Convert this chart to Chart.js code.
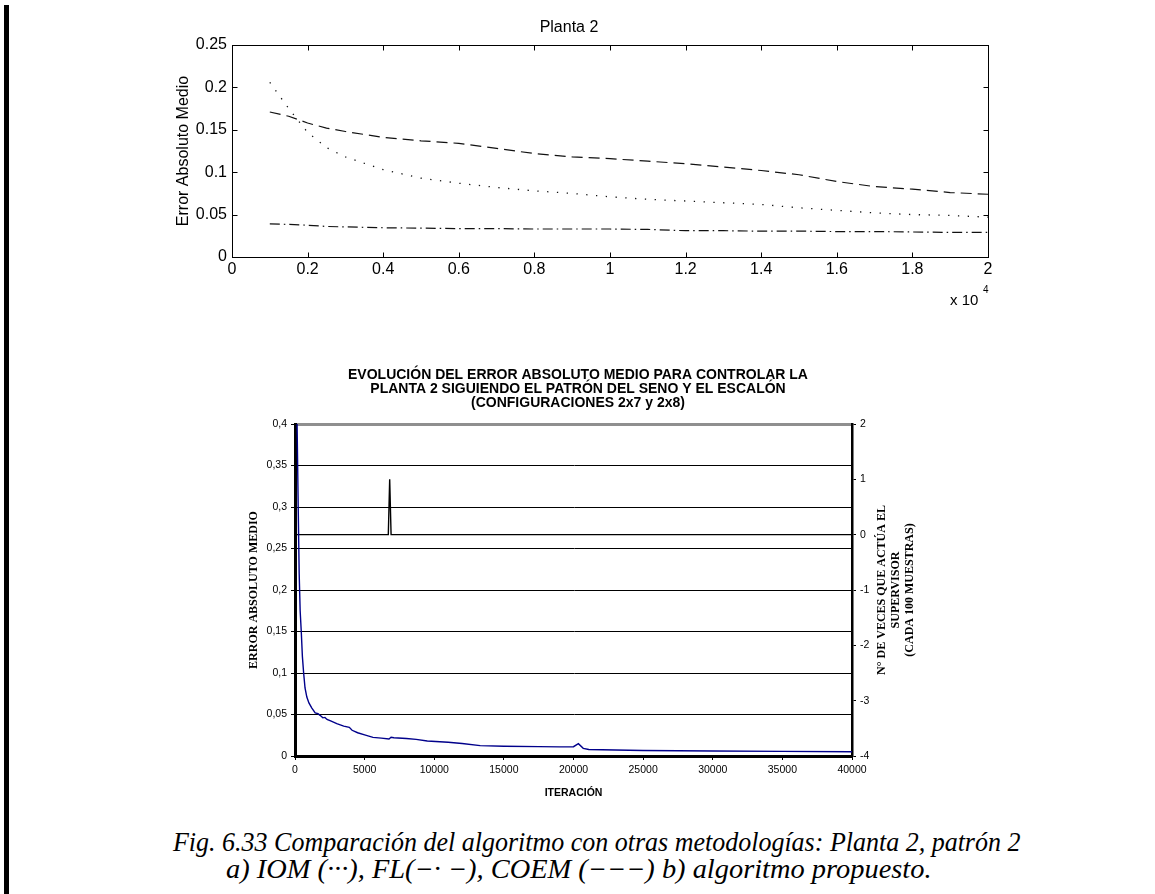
<!DOCTYPE html>
<html>
<head>
<meta charset="utf-8">
<script src="https://cdn.jsdelivr.net/npm/chart.js@4.4.1/dist/chart.umd.min.js"></script>
<style>
  html, body { margin: 0; padding: 0; background: #fff; }
  body { width: 1155px; height: 894px; position: relative; overflow: hidden; }
  #bar { position: absolute; left: 4px; top: 5px; width: 5px; height: 889px; background: #000; }
  #c1 { position: absolute; left: 150px; top: 0; }
  #c2 { position: absolute; left: 198px; top: 360px; }
  .cap { position: absolute; font-family: 'Liberation Serif', 'Times New Roman', serif; font-style: italic;
         font-size: 27px; line-height: 1; white-space: nowrap; color: #000; transform-origin: 0 50%; }
</style>
</head>
<body>
<div id="bar"></div>
<canvas id="c1" width="920" height="320"></canvas>
<canvas id="c2" width="760" height="440"></canvas>
<div class="cap" data-w="847" style="left:173px; top:829px;">Fig. 6.33 Comparación del algoritmo con otras metodologías: Planta 2, patrón 2</div>
<div class="cap" data-w="706" style="left:226px; top:856px;">a) IOM (···), FL(−· −), COEM (−−−) b) algoritmo propuesto.</div>

<script>
// ---- Planta 2: mean absolute error of three methods (iterations in units of 10^4) ----
const plantIter = [0.1, 0.15, 0.2, 0.25, 0.3, 0.4, 0.5, 0.6, 0.7, 0.8, 0.9, 1.0, 1.1, 1.2, 1.3, 1.4, 1.5, 1.6, 1.7, 1.8, 1.9, 2.0];
const iomErr  = [0.206, 0.175, 0.147, 0.129, 0.118, 0.103, 0.093, 0.087, 0.082, 0.078, 0.075, 0.071, 0.068, 0.066, 0.064, 0.062, 0.058, 0.055, 0.052, 0.050, 0.049, 0.047];
const flErr   = [0.039, 0.0385, 0.0375, 0.036, 0.0355, 0.0345, 0.034, 0.0335, 0.0335, 0.033, 0.033, 0.033, 0.0325, 0.031, 0.031, 0.0305, 0.0305, 0.030, 0.030, 0.0295, 0.029, 0.029];
const coemErr = [0.171, 0.166, 0.158, 0.152, 0.148, 0.141, 0.137, 0.134, 0.128, 0.122, 0.118, 0.116, 0.113, 0.110, 0.106, 0.102, 0.097, 0.089, 0.083, 0.080, 0.076, 0.074];

// ---- Proposed algorithm: error evolution and supervisor activity ----
const iterations = [150, 230, 300, 370, 450, 530, 620, 720, 850, 1000, 1200, 1450, 1650, 1800, 2000, 2150, 2300, 2600, 3000, 3500, 3900, 4100, 4500, 5000, 5600, 6200, 6750, 6900, 7100, 8000, 8700, 9500, 11000, 12000, 13300, 15000, 17500, 19000, 20000, 20350, 20700, 21100, 23000, 25000, 30000, 35000, 40000];
const meanAbsError = [0.40, 0.30, 0.22, 0.175, 0.15, 0.12, 0.10, 0.082, 0.071, 0.064, 0.058, 0.052, 0.051, 0.049, 0.046, 0.0465, 0.044, 0.042, 0.039, 0.036, 0.0345, 0.031, 0.028, 0.0255, 0.0225, 0.0215, 0.0205, 0.0225, 0.022, 0.021, 0.020, 0.018, 0.0165, 0.015, 0.0125, 0.0118, 0.0113, 0.011, 0.0112, 0.0148, 0.0092, 0.0078, 0.0072, 0.0066, 0.006, 0.0056, 0.0052];
const supervisorIter  = [0, 6700, 6800, 6900, 40000];
const supervisorCount = [0, 0, 1, 0, 0];

const topTitle = 'Planta 2';
const topYTitle = 'Error Absoluto Medio';
const bottomTitle = [
  'EVOLUCIÓN DEL ERROR ABSOLUTO MEDIO PARA CONTROLAR LA',
  'PLANTA 2 SIGUIENDO EL PATRÓN DEL SENO Y EL ESCALÓN',
  '(CONFIGURACIONES 2x7 y 2x8)'
];
const leftTitle = 'ERROR ABSOLUTO MEDIO';
const rightTitleLines = ['N° DE VECES QUE ACTÚA EL', 'SUPERVISOR', '(CADA 100 MUESTRAS)'];
const xTitle = 'ITERACIÓN';

const sans = "'Liberation Sans', Arial, sans-serif";
const serif = "'Liberation Serif', 'Times New Roman', serif";
Chart.defaults.font.family = sans;
Chart.defaults.color = '#000';
Chart.defaults.animation = false;

const pts = (xs, ys) => xs.map((x, i) => ({ x, y: ys[i] }));

// Box frame with inward tick marks on all four sides, plus the x 10^4 multiplier
const boxTicks = {
  id: 'boxTicks',
  afterDatasetsDraw(chart) {
    const { ctx, chartArea: a, scales: { x, y } } = chart;
    ctx.save();
    ctx.strokeStyle = '#000';
    ctx.lineWidth = 1;
    const L = Math.round(a.left) + 0.5, R = Math.round(a.right) + 0.5;
    const T = Math.round(a.top) + 0.5, B = Math.round(a.bottom) + 0.5;
    ctx.strokeRect(L, T, R - L, B - T);
    ctx.beginPath();
    x.ticks.forEach(t => {
      const px = Math.round(x.getPixelForValue(t.value)) + 0.5;
      ctx.moveTo(px, B); ctx.lineTo(px, B - 5);
      ctx.moveTo(px, T); ctx.lineTo(px, T + 5);
    });
    y.ticks.forEach(t => {
      const py = Math.round(y.getPixelForValue(t.value)) + 0.5;
      ctx.moveTo(L, py); ctx.lineTo(L + 5, py);
      ctx.moveTo(R, py); ctx.lineTo(R - 5, py);
    });
    ctx.stroke();
    ctx.fillStyle = '#000';
    ctx.textAlign = 'left';
    ctx.textBaseline = 'alphabetic';
    ctx.font = `15px ${sans}`;
    ctx.fillText('x 10', a.right - 38, a.bottom + 48);
    ctx.font = `10px ${sans}`;
    ctx.fillText('4', a.right - 5, a.bottom + 36);
    ctx.restore();
  }
};

new Chart(document.getElementById('c1'), {
  type: 'line',
  data: {
    datasets: [
      { label: 'IOM', data: pts(plantIter, iomErr), borderColor: '#111', borderWidth: 1.3,
        borderDash: [1.3, 8.5], pointRadius: 0, fill: false },
      { label: 'FL', data: pts(plantIter, flErr), borderColor: '#111', borderWidth: 1.2,
        borderDash: [10, 4, 1.5, 4], pointRadius: 0, fill: false },
      { label: 'COEM', data: pts(plantIter, coemErr), borderColor: '#111', borderWidth: 1.2,
        borderDash: [11, 6], pointRadius: 0, fill: false }
    ]
  },
  options: {
    responsive: false,
    devicePixelRatio: 1,
    layout: { padding: { left: 0, right: 82, top: 0, bottom: 0 } },
    plugins: {
      legend: { display: false },
      tooltip: { enabled: false },
      title: { display: true, text: topTitle, font: { size: 16, weight: 'normal' },
               padding: { top: 18.4, bottom: 7.4 }, color: '#000' }
    },
    scales: {
      x: {
        type: 'linear', min: 0, max: 2,
        ticks: { stepSize: 0.2, font: { size: 16 }, padding: 3, maxRotation: 0,
                 callback: v => String(Math.round(v * 10) / 10) },
        grid: { display: false, drawTicks: false },
        border: { display: false },
        afterFit(s) { s.height = 63; }
      },
      y: {
        min: 0, max: 0.25,
        ticks: { stepSize: 0.05, font: { size: 16 }, padding: 5,
                 callback: v => String(Math.round(v * 100) / 100) },
        grid: { display: false, drawTicks: false },
        border: { display: false },
        title: { display: true, text: topYTitle, font: { size: 16 }, padding: { top: 24, bottom: 0 } },
        afterFit(s) { s.width = 82; }
      }
    }
  },
  plugins: [boxTicks]
});

// Rotated multi-line title for the right-hand axis, read bottom to top
const rightTitle = {
  id: 'rightTitle',
  afterDraw(chart) {
    const { ctx, chartArea: a } = chart;
    const r = chart.scales.y1;
    ctx.save();
    ctx.font = `bold 12px ${serif}`;
    ctx.fillStyle = '#000';
    ctx.textAlign = 'center';
    ctx.textBaseline = 'middle';
    const cy = (a.top + a.bottom) / 2;
    rightTitleLines.forEach((t, i) => {
      ctx.save();
      ctx.translate(r.left + 30 + i * 14, cy);
      ctx.rotate(-Math.PI / 2);
      ctx.fillText(t, 0, 0);
      ctx.restore();
    });
    ctx.restore();
  }
};

const comma = v => String(Math.round(v * 100) / 100).replace('.', ',');

new Chart(document.getElementById('c2'), {
  type: 'line',
  data: {
    datasets: [
      { label: 'Error', data: pts(iterations, meanAbsError), yAxisID: 'y', borderColor: '#00008b',
        borderWidth: 1.4, pointRadius: 0, fill: false, tension: 0 },
      { label: 'Supervisor', data: pts(supervisorIter, supervisorCount), yAxisID: 'y1', borderColor: '#000',
        borderWidth: 1.4, pointRadius: 0, fill: false, tension: 0 }
    ]
  },
  options: {
    responsive: false,
    devicePixelRatio: 1,
    layout: { padding: 0 },
    plugins: {
      legend: { display: false },
      tooltip: { enabled: false },
      title: { display: true, text: bottomTitle, color: '#000',
               font: { size: 14, weight: 'bold', lineHeight: 1 },
               padding: { top: 8, bottom: 14 } }
    },
    scales: {
      x: {
        type: 'linear', min: 0, max: 40000,
        ticks: { stepSize: 5000, font: { size: 10.5 }, padding: 4, maxRotation: 0,
                 callback: v => String(v) },
        grid: { drawOnChartArea: false, drawTicks: true, tickLength: 4, tickColor: '#000', tickWidth: 1 },
        border: { color: '#000', width: 3 },
        title: { display: true, text: xTitle, font: { size: 10.5, weight: 'bold' }, padding: { top: 0, bottom: 1 } },
        afterFit(s) { s.height = 44; }
      },
      y: {
        position: 'left', min: 0, max: 0.4,
        ticks: { stepSize: 0.05, font: { size: 10.5 }, padding: 4, callback: comma },
        grid: {
          color: c => (c.tick && c.tick.value > 0.399) ? '#8f8f8f' : '#000',
          lineWidth: c => (c.tick && c.tick.value > 0.399) ? 3 : 1,
          drawTicks: true, tickLength: 4, tickColor: '#000', tickWidth: 1
        },
        border: { color: '#000', width: 3 },
        title: { display: true, text: leftTitle, font: { family: serif, size: 12, weight: 'bold' },
                 padding: { top: 49, bottom: 0 } },
        afterFit(s) { s.width = 97; }
      },
      y1: {
        position: 'right', min: -4, max: 2,
        ticks: { stepSize: 1, font: { size: 10.5 }, padding: 4 },
        grid: { drawOnChartArea: false, drawTicks: true, tickLength: 4, tickColor: '#000', tickWidth: 1 },
        border: { color: '#000', width: 2.5 },
        afterFit(s) { s.width = 106; }
      }
    }
  },
  plugins: [rightTitle]
});

// Fit each caption line to its printed width
document.querySelectorAll('.cap').forEach(el => {
  const w = +el.dataset.w;
  el.style.transform = `scaleX(${w / el.offsetWidth})`;
});
</script>
</body>
</html>
